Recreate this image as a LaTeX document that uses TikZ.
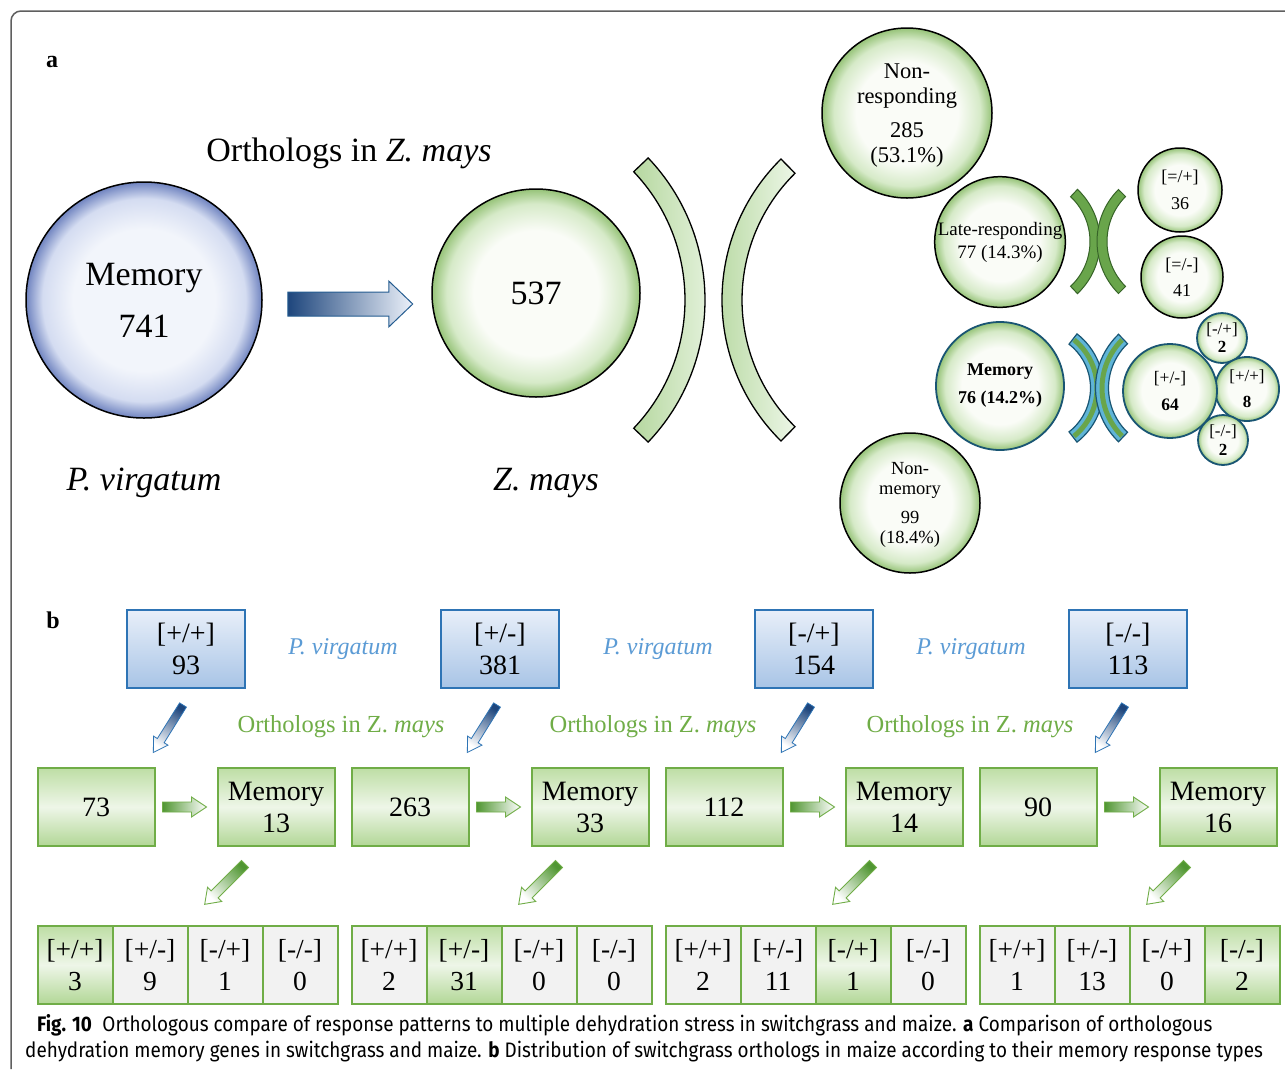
\documentclass[tikz,border=0pt]{standalone}
\usepackage{fontspec}
\setmainfont{Liberation Serif}
\newfontfamily\capfont[FakeStretch=0.9]{Fira Sans}
\usetikzlibrary{positioning,calc,shadings}
\definecolor{bubwhite}{RGB}{250,252,247}
\definecolor{grnrim}{RGB}{214,234,200}
\definecolor{grnedge}{RGB}{150,195,120}
\definecolor{bluwhite}{RGB}{242,245,251}
\definecolor{blurim}{RGB}{212,220,241}
\definecolor{bluedge}{RGB}{112,132,192}
\definecolor{memteal}{RGB}{25,85,115}
\definecolor{bandlight}{RGB}{236,246,230}
\definecolor{banddark}{RGB}{182,216,160}
\definecolor{leafgreen}{RGB}{105,165,75}
\definecolor{leafdark}{RGB}{55,100,40}
\definecolor{skyband}{RGB}{95,180,215}
\definecolor{navyarrow}{RGB}{30,70,125}
\definecolor{paleblue}{RGB}{236,241,250}
\definecolor{pvborder}{RGB}{46,116,181}
\definecolor{pvtop}{RGB}{232,239,249}
\definecolor{pvbottom}{RGB}{168,196,230}
\definecolor{pvtext}{RGB}{91,155,213}
\definecolor{zmborder}{RGB}{112,173,71}
\definecolor{zmtop}{RGB}{190,222,165}
\definecolor{zmmid}{RGB}{238,246,232}
\definecolor{zmbottom}{RGB}{178,215,150}
\definecolor{zmtext}{RGB}{112,173,71}
\definecolor{zmarrow}{RGB}{80,150,50}
\definecolor{cellgray}{RGB}{242,242,242}
\definecolor{framegray}{RGB}{95,95,95}
\pgfdeclareradialshading{greenbubble}{\pgfpoint{0bp}{0bp}}{%
  color(0bp)=(bubwhite); color(15bp)=(bubwhite); color(21.5bp)=(grnrim);
  color(25bp)=(grnedge); color(50bp)=(grnedge)}
\pgfdeclareradialshading{bluebubble}{\pgfpoint{0bp}{0bp}}{%
  color(0bp)=(bluwhite); color(15bp)=(bluwhite); color(21.5bp)=(blurim);
  color(25bp)=(bluedge); color(50bp)=(bluedge)}
% block arrow: style, tail, angle, length, half body, half head, head length
\newcommand{\blockarrow}[7]{%
  \draw[#1, shift={(#2)}, rotate=#3] (0,-#5) -- ({#4-#7},-#5) -- ({#4-#7},-#6)
    -- (#4,0) -- ({#4-#7},#6) -- ({#4-#7},#5) -- (0,#5) -- cycle;}
% curved band: style, centre x, centre y, radius, half width, from, to
\newcommand{\crescent}[7]{%
  \draw[#1] ([shift={(#2,#3)}]#6:{#4+#5}) arc[start angle=#6,end angle=#7,radius={#4+#5}]
    -- ([shift={(#2,#3)}]#7:{#4-#5}) arc[start angle=#7,end angle=#6,radius={#4-#5}] -- cycle;}

\begin{document}
\begin{tikzpicture}[
    x=1pt, y=-1pt,
    gbub/.style={circle,draw=black,line width=1.5pt,shade,shading=greenbubble,
      inner sep=0pt,align=center},
    bbub/.style={circle,draw=black,line width=1.5pt,shade,shading=bluebubble,
      inner sep=0pt,align=center},
    mbub/.style={gbub,draw=memteal,line width=1.8pt},
    bigband/.style={draw=black,line width=1.3pt,left color=banddark,right color=bandlight},
    leafband/.style={draw=leafdark,line width=1pt,fill=leafgreen},
    skyband/.style={draw=memteal,line width=1.2pt,fill=skyband},
    pvbox/.style={rectangle,draw=pvborder,line width=2pt,minimum width=118pt,
      minimum height=78pt,top color=pvtop,bottom color=pvbottom,align=center,
      font=\fontsize{28}{32}\selectfont},
    zmbox/.style={rectangle,draw=zmborder,line width=2pt,minimum width=117pt,
      minimum height=78pt,outer sep=0pt,top color=zmtop,bottom color=zmbottom,
      middle color=zmmid,align=center,font=\fontsize{28}{32}\selectfont},
    cell/.style={rectangle,draw=zmborder,line width=2pt,minimum width=75pt,
      minimum height=78pt,outer sep=0pt,fill=cellgray,align=center,
      font=\fontsize{27.5}{32}\selectfont},
    cellhi/.style={cell,top color=zmtop,bottom color=zmbottom,middle color=zmmid},
    pvtag/.style={text=pvtext,font=\fontsize{24}{28}\selectfont\itshape},
    orthtag/.style={text=zmtext,font=\fontsize{24.5}{28}\selectfont},
    pvarr/.style={draw=pvborder,line width=0.8pt,left color=navyarrow,right color=white},
    zmarr/.style={draw=zmborder,line width=0.9pt,left color=zmarrow,right color=white}
  ]
    \fill[white] (0,0) rectangle (1285,1069);
    \useasboundingbox (0,0) rectangle (1285,1069);
    \draw[framegray,line width=1.5pt,rounded corners=10pt] (11,1069) -- (11,11) -- (1285,11);

    % panel a
    \node[font=\fontsize{24}{28}\selectfont\bfseries] (lbla) at (52,62) {a};
    \node[font=\fontsize{34}{38}\selectfont] (orthtitle) at (349,153)
      {Orthologs in \textit{Z. mays}};
    \node[bbub,minimum size=236pt,font=\fontsize{34}{52}\selectfont] (pvmem) at (144,300)
      {Memory\\741};
    \node[gbub,minimum size=208pt,font=\fontsize{34}{38}\selectfont] (zmall) at (536,293) {537};
    \node[font=\fontsize{34}{38}\selectfont\itshape] (pvname) at (144,483) {P. virgatum};
    \node[font=\fontsize{34}{38}\selectfont\itshape] (zmname) at (546,483) {Z. mays};
    \blockarrow{draw=pvborder!80!black,line width=1pt,left color=navyarrow,
      right color=paleblue}{$(pvmem.east)+(25,4)$}{0}{125}{12}{23}{24}

    \crescent{bigband}{499}{300}{196}{10}{-43.6}{43.6}
    \crescent{bigband}{920}{300}{188}{10}{134.6}{225.4}

    \node[gbub,minimum size=170pt,text depth=0pt,font=\fontsize{22.5}{24.5}\selectfont]
      (nonresp) at (907,113) {Non-\\responding\\[10pt]285\\(53.1\%)};
    \node[gbub,minimum size=128pt,font=\fontsize{19}{23}\selectfont] (lateresp) at (1000,242)
      {Late-responding\\77 (14.3\%)};
    \node[gbub,minimum size=84pt,font=\fontsize{18}{20}\selectfont] (lateup) at (1180,190)
      {[=/+]\\[7pt]36};
    \node[gbub,minimum size=82pt,font=\fontsize{18}{20}\selectfont] (latedown) at (1182,277)
      {[=/-]\\[6pt]41};
    \node[mbub,minimum size=128pt,font=\fontsize{18}{28}\selectfont\bfseries] (zmmem) at (1000,386)
      {Memory\\76 (14.2\%)};
    \node[mbub,minimum size=50pt,font=\fontsize{17}{18}\selectfont] (memmp) at (1222,338)
      {[-/+]\\\textbf{2}};
    \node[mbub,minimum size=64pt,font=\fontsize{17}{26}\selectfont] (mempp) at (1247,389)
      {[+/+]\\\textbf{8}};
    \node[mbub,minimum size=50pt,font=\fontsize{17}{19}\selectfont] (memmm) at (1223,440)
      {[-/-]\\\textbf{2}};
    \node[mbub,minimum size=94pt,font=\fontsize{17.5}{27}\selectfont] (mempm) at (1170,391)
      {[+/-]\\\textbf{64}};
    \node[gbub,minimum size=140pt,text depth=0pt,font=\fontsize{18.5}{20.5}\selectfont]
      (nonmem) at (910,503) {Non-\\memory\\[8pt]99\\(18.4\%)};

    \crescent{leafband}{1028.5}{241.5}{66.5}{5}{-46.8}{46.8}
    \crescent{leafband}{1170.8}{241.5}{68.8}{5}{135.2}{224.8}
    \crescent{skyband}{1035}{388}{62}{6.5}{-52.2}{52.2}
    \crescent{leafband,draw=none}{1035}{388}{62}{2.5}{-51}{51}
    \crescent{skyband}{1169.7}{388}{67.7}{6.5}{133.6}{226.4}
    \crescent{leafband,draw=none}{1169.7}{388}{67.7}{2.5}{134.8}{225.2}

    % panel b
    \node[font=\fontsize{24}{28}\selectfont\bfseries] (lblb) at (53,620) {b};
    \node[pvbox] (pvpp) at (186,649) {[+/+]\\93};
    \node[pvbox] (pvpm) at (500,649) {[+/-]\\381};
    \node[pvbox] (pvmp) at (814,649) {[-/+]\\154};
    \node[pvbox] (pvmm) at (1128,649) {[-/-]\\113};
    \node[pvtag] (pvtag1) at (343,649) {P. virgatum};
    \node[pvtag] (pvtag2) at (658,649) {P. virgatum};
    \node[pvtag] (pvtag3) at (971,649) {P. virgatum};
    \node[orthtag] (orthtag1) at (341,727) {Orthologs in Z. \textit{mays}};
    \node[orthtag] (orthtag2) at (653,727) {Orthologs in Z. \textit{mays}};
    \node[orthtag] (orthtag3) at (970,727) {Orthologs in Z. \textit{mays}};

    \node[zmbox] (cnt1) at (96,807) {73};
    \node[zmbox,right=63pt of cnt1] (memo1) {Memory\\13};
    \node[zmbox,right=17pt of memo1] (cnt2) {263};
    \node[zmbox,right=63pt of cnt2] (memo2) {Memory\\33};
    \node[zmbox,right=17pt of memo2] (cnt3) {112};
    \node[zmbox,right=63pt of cnt3] (memo3) {Memory\\14};
    \node[zmbox,right=17pt of memo3] (cnt4) {90};
    \node[zmbox,right=63pt of cnt4] (memo4) {Memory\\16};

    \node[cellhi] (c1a) at (75,965) {[+/+]\\3};
    \node[cell,right=0pt of c1a] (c1b) {[+/-]\\9};
    \node[cell,right=0pt of c1b] (c1c) {[-/+]\\1};
    \node[cell,right=0pt of c1c] (c1d) {[-/-]\\0};
    \node[cell] (c2a) at (389,965) {[+/+]\\2};
    \node[cellhi,right=0pt of c2a] (c2b) {[+/-]\\31};
    \node[cell,right=0pt of c2b] (c2c) {[-/+]\\0};
    \node[cell,right=0pt of c2c] (c2d) {[-/-]\\0};
    \node[cell] (c3a) at (703,965) {[+/+]\\2};
    \node[cell,right=0pt of c3a] (c3b) {[+/-]\\11};
    \node[cellhi,right=0pt of c3b] (c3c) {[-/+]\\1};
    \node[cell,right=0pt of c3c] (c3d) {[-/-]\\0};
    \node[cell] (c4a) at (1017,965) {[+/+]\\1};
    \node[cell,right=0pt of c4a] (c4b) {[+/-]\\13};
    \node[cell,right=0pt of c4b] (c4c) {[-/+]\\0};
    \node[cellhi,right=0pt of c4c] (c4d) {[-/-]\\2};

    \blockarrow{pvarr,shading angle=328}{$(pvpp.south)+(-3,16)$}{238}{56}{4}{8.5}{14}
    \blockarrow{pvarr,shading angle=328}{$(pvpm.south)+(-3,16)$}{238}{56}{4}{8.5}{14}
    \blockarrow{pvarr,shading angle=328}{$(pvmp.south)+(-3,16)$}{238}{56}{4}{8.5}{14}
    \blockarrow{pvarr,shading angle=328}{$(pvmm.south)+(-3,16)$}{238}{56}{4}{8.5}{14}
    \blockarrow{zmarr}{$(cnt1.east)+(8,0)$}{0}{44}{5}{10}{15}
    \blockarrow{zmarr}{$(cnt2.east)+(8,0)$}{0}{44}{5}{10}{15}
    \blockarrow{zmarr}{$(cnt3.east)+(8,0)$}{0}{44}{5}{10}{15}
    \blockarrow{zmarr}{$(cnt4.east)+(8,0)$}{0}{44}{5}{10}{15}
    \blockarrow{zmarr,shading angle=315}{$(memo1.south)+(-31,18)$}{225}{57}{5}{10}{14}
    \blockarrow{zmarr,shading angle=315}{$(memo2.south)+(-31,18)$}{225}{57}{5}{10}{14}
    \blockarrow{zmarr,shading angle=315}{$(memo3.south)+(-31,18)$}{225}{57}{5}{10}{14}
    \blockarrow{zmarr,shading angle=315}{$(memo4.south)+(-31,18)$}{225}{57}{5}{10}{14}

    % caption
    \node[anchor=west,inner sep=0pt,font=\capfont\fontsize{21}{24}\selectfont] (cap1) at (37,1025)
      {\textbf{Fig. 10}\enspace Orthologous compare of response patterns to multiple dehydration
       stress in switchgrass and maize. \textbf{a} Comparison of orthologous};
    \node[anchor=west,inner sep=0pt,font=\capfont\fontsize{21}{24}\selectfont] (cap2) at (25,1052)
      {dehydration memory genes in switchgrass and maize. \textbf{b} Distribution of switchgrass
       orthologs in maize according to their memory response types};
  \end{tikzpicture}
\end{document}
